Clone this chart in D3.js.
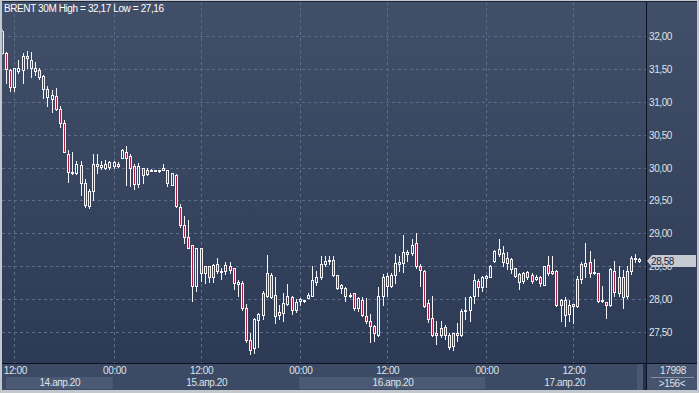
<!DOCTYPE html>
<html><head><meta charset="utf-8">
<script src="https://cdn.jsdelivr.net/npm/d3@7"></script>
<style>
html,body{margin:0;padding:0;background:#c3c7ce;}
svg{display:block;}
text{font-family:"Liberation Sans",Arial,sans-serif;font-size:10px;letter-spacing:-0.4px;}
</style></head>
<body>
<svg id="c" width="699" height="393"></svg>
<script>
// ---- data (first candle index = -3) ----
const firstIndex = -3;
const opens  = [31.74,31.74,31.49,31.23,31.47,31.49,31.69,31.64,31.51,31.48,31.39,31.19,31.04,31.09,30.89,30.67,30.21,29.91,29.91,30.04,29.76,29.41,29.64,30.02,30.04,30.00,30.01,30.02,30.06,30.15,30.24,30.17,30.02,29.75,29.99,29.90,29.96,29.97,29.97,29.97,29.96,29.74,29.89,
  29.40,29.12,28.95,28.82,28.20,28.77,28.39,28.50,28.34,28.53,28.41,28.42,28.51,28.47,28.23,28.25,27.86,27.38,27.25,27.68,27.76,28.05,28.37,28.06,27.76,27.79,27.92,28.03,27.84,27.97,27.97,28.01,28.05,28.26,28.33,28.53,28.58,28.59,28.36,28.21,28.17,
  28.06,28.09,27.86,27.99,27.75,27.67,27.59,27.46,28.05,28.35,28.20,28.36,28.54,28.55,28.69,28.70,28.85,28.50,28.43,27.94,27.71,27.48,27.45,27.57,27.45,27.28,27.46,27.45,27.82,27.84,28.04,28.28,28.18,28.32,28.34,
  28.58,28.76,28.70,28.62,28.61,28.47,28.38,28.28,28.34,28.36,28.30,28.34,28.22,28.52,28.43,28.43,27.99,27.99,27.77,27.90,27.89,28.30,28.50,28.56,28.41,28.39,27.99,27.95,27.91,28.43,28.33,28.03,28.43,28.42,28.62,28.61];
const highs  = [32.10,31.76,31.50,31.52,31.64,31.74,31.77,31.75,31.61,31.51,31.40,31.24,31.18,31.21,30.94,30.73,30.27,30.23,30.10,30.10,29.82,29.67,30.21,30.20,30.10,30.12,30.10,30.10,30.08,30.28,30.33,30.20,30.06,30.07,30.00,29.99,29.98,29.97,29.97,30.06,29.97,29.92,29.90,
  29.45,29.26,29.20,28.83,28.78,28.78,28.51,28.51,28.53,28.63,28.48,28.56,28.56,28.48,28.29,28.27,27.92,27.48,27.71,27.79,28.12,28.67,28.39,28.33,27.91,28.10,28.23,28.04,28.00,28.02,27.99,28.09,28.51,28.43,28.66,28.66,28.65,28.65,28.37,28.23,28.19,
  28.09,28.10,28.03,28.03,28.01,27.77,27.60,28.18,28.38,28.40,28.40,28.68,28.65,28.98,28.74,28.91,29.00,28.53,28.44,27.98,28.05,27.67,27.67,27.60,27.49,27.49,27.63,27.85,28.03,28.04,28.38,28.30,28.35,28.36,28.52,
  28.74,28.92,28.80,28.71,28.62,28.48,28.39,28.41,28.42,28.40,28.36,28.35,28.51,28.65,28.65,28.44,28.00,28.03,27.98,27.93,28.35,28.56,28.85,28.73,28.61,28.40,28.20,27.96,28.48,28.58,28.50,28.44,28.50,28.65,28.68,28.63];
const lows   = [31.72,31.28,31.17,31.17,31.43,31.29,31.51,31.38,31.40,31.34,31.06,30.94,30.85,30.87,30.62,30.24,29.78,29.90,29.90,29.59,29.40,29.38,29.51,29.91,29.98,29.98,29.98,29.99,30.01,30.14,29.73,29.72,29.67,29.70,29.76,29.89,29.95,29.95,29.93,29.96,29.72,29.73,29.40,
  29.10,28.86,28.77,27.97,28.13,28.27,28.25,28.26,28.26,28.40,28.31,28.38,28.40,28.15,28.05,27.84,27.35,27.16,27.18,27.27,27.70,28.03,28.02,27.64,27.70,27.67,27.91,27.78,27.81,27.91,27.96,28.01,28.04,28.22,28.31,28.50,28.53,28.35,28.15,28.10,27.97,
  28.03,27.84,27.82,27.75,27.64,27.35,27.37,27.44,27.91,28.04,28.18,28.24,28.43,28.41,28.58,28.67,28.48,28.20,27.88,27.65,27.44,27.32,27.42,27.40,27.24,27.22,27.37,27.44,27.70,27.67,27.94,28.05,28.13,28.18,28.33,
  28.57,28.66,28.50,28.46,28.40,28.34,28.15,28.25,28.31,28.25,28.29,28.20,28.21,28.36,28.38,27.90,27.67,27.59,27.67,27.64,27.88,28.25,28.33,28.33,28.38,27.96,27.95,27.71,27.90,28.05,28.04,27.86,28.01,28.38,28.56,28.57];
const closes = [32.07,31.50,31.23,31.51,31.52,31.70,31.67,31.51,31.47,31.37,31.19,31.07,31.10,30.89,30.68,30.24,29.93,29.93,30.06,29.77,29.43,29.64,30.06,30.06,30.01,30.06,30.08,30.08,30.02,30.27,30.15,30.00,29.75,30.02,29.89,29.97,29.97,29.97,29.97,29.99,29.76,29.91,29.41,
  29.12,28.95,28.78,28.20,28.77,28.40,28.50,28.34,28.52,28.43,28.43,28.52,28.45,28.24,28.26,27.86,27.38,27.22,27.70,27.77,28.09,28.39,28.03,27.74,27.81,27.94,28.05,27.83,27.96,28.00,27.98,28.06,28.29,28.34,28.53,28.58,28.60,28.37,28.17,28.17,28.05,
  28.05,27.86,28.01,27.76,27.66,27.59,27.49,28.04,28.33,28.20,28.36,28.55,28.56,28.71,28.71,28.83,28.50,28.44,27.89,27.70,27.46,27.46,27.56,27.45,27.27,27.48,27.48,27.82,27.84,28.03,28.29,28.18,28.33,28.35,28.51,
  28.73,28.68,28.56,28.55,28.46,28.35,28.26,28.39,28.41,28.28,28.34,28.24,28.50,28.40,28.39,27.91,27.91,27.76,27.91,27.92,28.30,28.53,28.55,28.40,28.40,27.97,27.97,27.91,28.46,28.11,28.10,28.33,28.04,28.63,28.61,28.58];

const title = "BRENT 30M High = 32,17 Low = 27,16";
const priceTicks = [27.5, 28.0, 28.5, 29.0, 29.5, 30.0, 30.5, 31.0, 31.5, 32.0];
const timeTickIdx = [0, 24, 45, 69, 90, 114, 135];
const timeTickLabels = ["12:00","00:00","12:00","00:00","12:00","00:00","12:00"];
const dayStartIdx = [-2, 24, 69, 114];
const dayLabels = ["14.апр.20","15.апр.20","16.апр.20","17.апр.20"];
const lastPrice = 28.58;
const footerTop = "17998";
const footerBottom = ">156<";

const candles = opens.map((o,k)=>({i:firstIndex+k,o:o,h:highs[k],l:lows[k],c:closes[k]}));
const fmt = v => d3.format(".2f")(v).replace(".", ",");

// ---- layout ----
const plotL = 2, plotR = 646, plotT = 2, plotB = 363, chartB = 390, chartR = 697;
const svg = d3.select("#c");
const x = d3.scaleLinear().domain([0, 135]).range([14.3, 573]);
const y = d3.scaleLinear().domain([27.5, 32]).range([332, 36]);

const defs = svg.append("defs");
const g = defs.append("linearGradient").attr("id","bg").attr("x1",0).attr("y1",0).attr("x2",0).attr("y2",1);
g.append("stop").attr("offset","0%").attr("stop-color","#414f69");
g.append("stop").attr("offset","100%").attr("stop-color","#2d3a55");
defs.append("clipPath").attr("id","clip").append("rect")
  .attr("x",2.5).attr("y",plotT).attr("width",plotR-2.5).attr("height",plotB-plotT);

// frame
svg.append("rect").attr("width",699).attr("height",393).attr("fill","#c3c7ce");
svg.append("rect").attr("x",plotL).attr("y",1).attr("width",chartR-plotL).attr("height",plotB-1).attr("fill","url(#bg)");
// bottom axis area
svg.append("rect").attr("x",plotL).attr("y",plotB).attr("width",plotR-plotL).attr("height",chartB-plotB).attr("fill","#3c4a65");
svg.append("rect").attr("x",plotR).attr("y",plotB).attr("width",chartR-plotR).attr("height",chartB-plotB).attr("fill","#45536e");

// day bands
const dayEnds = dayStartIdx.slice(1).concat([candles[candles.length-1].i + 1]);
const bandColors = ["#4b5974","#3c4a65"];
dayLabels.forEach((lab,k)=>{
  const x0 = x(dayStartIdx[k]) - (k===0 ? 0 : 0.7);
  const x1 = k < dayLabels.length-1 ? x(dayStartIdx[k+1]) - 0.7 : 637;
  svg.append("rect").attr("x",x0).attr("y",377).attr("width",x1-x0).attr("height",12).attr("fill",bandColors[k%2]);
  const cx = (x(dayStartIdx[k]) + x(dayEnds[k]))/2;
  svg.append("text").attr("x",cx).attr("y",385.5).attr("text-anchor","middle").attr("fill","#dfe3ea").text(lab);
});
// scroll strip
svg.append("rect").attr("x",637).attr("y",plotB).attr("width",6).attr("height",chartB-plotB).attr("fill","#4a5771");
svg.append("rect").attr("x",643).attr("y",plotB).attr("width",3).attr("height",chartB-plotB).attr("fill","#26304a");

// gridlines
const grid = svg.append("g").attr("stroke","#5d6c88").attr("stroke-width",1).attr("stroke-dasharray","3,3");
priceTicks.forEach(v=>{
  const yy = Math.round(y(v))+0.5;
  grid.append("line").attr("x1",plotL).attr("x2",plotR).attr("y1",yy).attr("y2",yy);
});
timeTickIdx.forEach(i=>{
  const xx = Math.round(x(i))+0.5;
  grid.append("line").attr("x1",xx).attr("x2",xx).attr("y1",plotT).attr("y2",plotB);
});

// candles
const cg = svg.append("g").attr("clip-path","url(#clip)");
candles.forEach(d=>{
  const cx = Math.round(x(d.i));
  const bull = d.c >= d.o;
  cg.append("line").attr("x1",cx+0.5).attr("x2",cx+0.5)
    .attr("y1",Math.round(y(d.h))).attr("y2",Math.round(y(d.l))+1)
    .attr("stroke","#f4f4f6").attr("stroke-width",1);
  const yt = Math.round(y(Math.max(d.o,d.c)));
  const yb = Math.round(y(Math.min(d.o,d.c)));
  cg.append("rect").attr("x",cx-0.5).attr("y",yt+0.5).attr("width",2).attr("height",Math.max(1,yb-yt))
    .attr("fill", bull ? "#35435e" : "#a8223f").attr("stroke","#f4f4f6").attr("stroke-width",1);
});

// axis lines
svg.append("line").attr("x1",plotR+0.5).attr("x2",plotR+0.5).attr("y1",1).attr("y2",chartB).attr("stroke","#0d1220");
svg.append("line").attr("x1",plotL).attr("x2",chartR).attr("y1",plotB+0.5).attr("y2",plotB+0.5).attr("stroke","#0d1220");
svg.append("line").attr("x1",plotL).attr("x2",chartR).attr("y1",1.5).attr("y2",1.5).attr("stroke","#1c2538");

// right axis labels
const ra = svg.append("g");
priceTicks.forEach(v=>{
  ra.append("text").attr("x",649).attr("y",Math.round(y(v))+4).attr("fill","#dfe3ea").text(fmt(v));
});
// price tag
const ty = Math.round(y(lastPrice));
svg.append("path").attr("d",`M647,${ty} L652,${ty-6} L696,${ty-6} L696,${ty+6} L652,${ty+6} Z`)
  .attr("fill","#c6cad1");
svg.append("text").attr("x",651).attr("y",ty+4).attr("fill","#1b2337").text(fmt(lastPrice));

// time labels
timeTickIdx.forEach((i,k)=>{
  svg.append("text").attr("x",x(i)+1).attr("y",374).attr("text-anchor","middle").attr("fill","#dfe3ea").text(timeTickLabels[k]);
});

// footer box
svg.append("text").attr("x",673).attr("y",374).attr("text-anchor","middle").attr("fill","#dfe3ea").text(footerTop);
svg.append("line").attr("x1",651).attr("x2",694).attr("y1",377.5).attr("y2",377.5).attr("stroke","#8590a5");
svg.append("text").attr("x",672).attr("y",387).attr("text-anchor","middle").attr("fill","#dfe3ea").text(footerBottom);

// title
svg.append("text").attr("x",4).attr("y",11.5).attr("fill","#ffffff").text(title);
</script>
</body></html>
